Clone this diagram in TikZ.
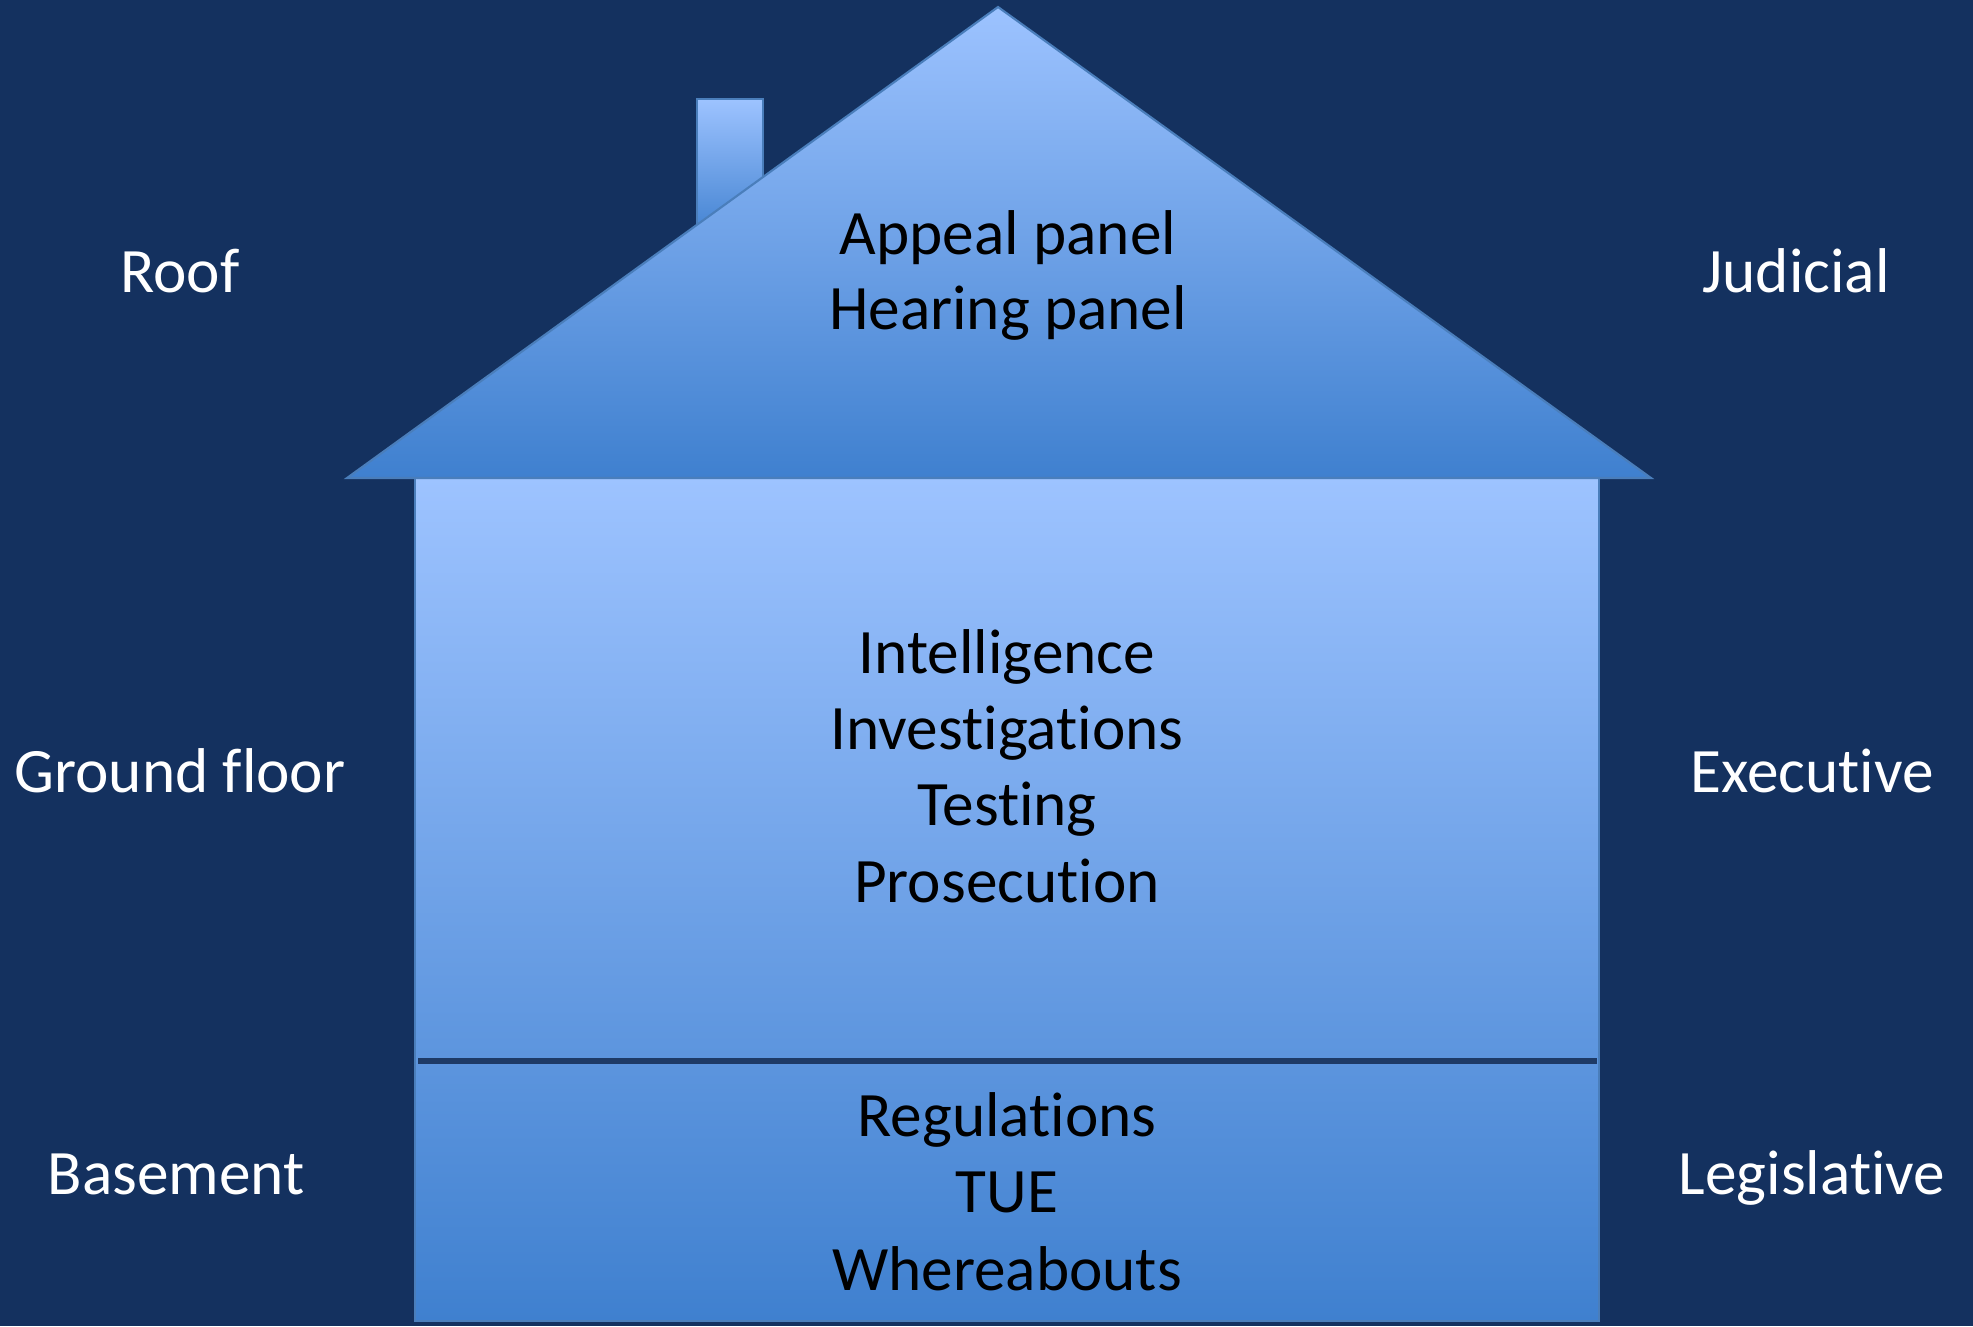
\documentclass[tikz,border=0pt]{standalone}
\usepackage{fontspec}
\setmainfont[Ligatures=NoCommon]{Carlito}
\usepackage{xcolor}
\usepackage{tikz}
\usetikzlibrary{positioning,calc}

\definecolor{navy}{RGB}{20,49,95}
\definecolor{skylight}{RGB}{157,195,255}
\definecolor{skydark}{RGB}{63,128,207}
\definecolor{edgeblue}{RGB}{74,126,187}
\definecolor{floorline}{RGB}{30,58,102}

\tikzset{
    housetext/.style={anchor=base, text=black, inner sep=0pt, font=\fontsize{18}{21.3}\selectfont},
    sidetext/.style={anchor=base, text=white, inner sep=0pt, font=\fontsize{18}{21.3}\selectfont},
    wall/.style={draw=edgeblue, line width=0.6pt, top color=skylight, bottom color=skydark}
}

\begin{document}
\begin{tikzpicture}[x=0.1mm, y=-0.1mm]
    % background
    \fill[navy] (0,0) rectangle (1973,1326);
    \useasboundingbox (0,0) rectangle (1973,1326);

    % chimney, body and roof
    \shade[wall] (697,99) rectangle (763,240);
    \shade[wall] (415,478) rectangle (1599,1321);
    \shade[wall] (347,478) -- (998,7) -- (1651,478) -- cycle;
    \draw[floorline, line width=1.8pt] (418,1061) -- (1597,1061);

    % texts in the house
    \node[housetext] (appeal) at (1008,254) {Appeal panel};
    \node[housetext] (hearing) at (1008,329) {Hearing panel};
    \foreach \name/\txt/\y in {intel/Intelligence/673, invest/Investigations/749, testing/Testing/825, prosec/Prosecution/902}
        \node[housetext] (\name) at (1007,\y) {\txt};
    \foreach \name/\txt/\y in {regul/Regulations/1136, tue/TUE/1212, where/Whereabouts/1290}
        \node[housetext] (\name) at (1007,\y) {\txt};

    % labels on both sides
    \node[sidetext] (roof) at (180,292) {Roof};
    \node[sidetext] (ground) at (180,792) {Ground floor};
    \node[sidetext] (basement) at (176,1194) {Basement};
    \node[sidetext] (judicial) at (1796,292) {Judicial};
    \node[sidetext] (executive) at (1812,792) {Executive};
    \node[sidetext] (legislative) at (1812,1194) {Legislative};
\end{tikzpicture}
\end{document}
